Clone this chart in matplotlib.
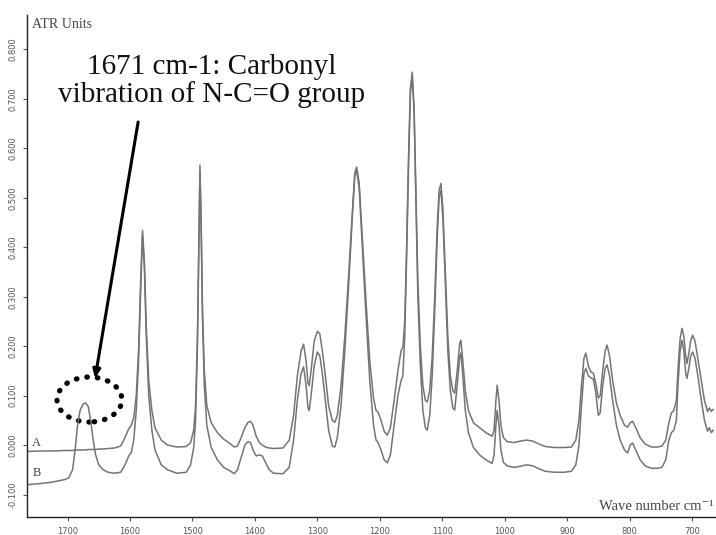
import matplotlib
matplotlib.use("Agg")
import matplotlib.pyplot as plt
import matplotlib.patches as patches

# wave numbers (cm-1) shared by both spectra
wavenumber = [
    1765, 1745, 1725, 1705, 1698, 1692, 1688, 1684, 1680, 1675, 1671, 1667, 1663, 1659, 1655,
    1650, 1643, 1635, 1625, 1615, 1608, 1602, 1598, 1594, 1590, 1586, 1583, 1580, 1577, 1574,
    1570, 1565, 1560, 1550, 1540, 1525, 1510, 1503, 1498, 1495, 1492, 1490, 1488, 1486, 1484,
    1481, 1477, 1470, 1460, 1450, 1440, 1433, 1428, 1422, 1416, 1411, 1407, 1403, 1398, 1393,
    1388, 1383, 1377, 1370, 1355, 1345, 1338, 1332, 1326, 1322, 1318, 1315, 1313, 1310, 1305,
    1300, 1296, 1292, 1288, 1282, 1276, 1272, 1268, 1262, 1256, 1250, 1244, 1240, 1237, 1233,
    1228, 1222, 1216, 1210, 1206, 1203, 1198, 1193, 1188, 1183, 1177, 1171, 1166, 1163, 1160,
    1157, 1154, 1151, 1148, 1145, 1142, 1139, 1135, 1131, 1127, 1124, 1120, 1116, 1112, 1108,
    1105, 1102, 1099, 1095, 1091, 1087, 1083, 1080, 1076, 1072, 1070, 1067, 1063, 1058, 1050,
    1040, 1030, 1020, 1017, 1014, 1012, 1009, 1006, 1002, 996, 985, 975, 965, 955, 945,
    935, 920, 905, 893, 886, 881, 877, 873, 870, 866, 862, 858, 854, 850, 847,
    843, 839, 836, 832, 827, 821, 815, 808, 803, 799, 795, 790, 783, 775, 765,
    755, 748, 742, 737, 733, 729, 725, 722, 719, 716, 713, 710, 708, 705, 702,
    699, 695, 690, 685, 680, 675, 672, 669, 666,
]

spectrum_a = [
    -0.013, -0.012, -0.012, -0.011, -0.011, -0.011, -0.010, -0.010, -0.010, -0.010, -0.010, -0.009, -0.009, -0.009, -0.009,
    -0.008, -0.008, -0.007, -0.006, -0.002, 0.015, 0.033, 0.040, 0.055, 0.100, 0.200, 0.330, 0.434, 0.370, 0.240,
    0.130, 0.070, 0.035, 0.010, 0.000, -0.004, -0.003, 0.005, 0.030, 0.080, 0.220, 0.400, 0.566, 0.450, 0.280,
    0.150, 0.080, 0.045, 0.025, 0.012, 0.003, -0.004, -0.002, 0.015, 0.035, 0.046, 0.048, 0.040, 0.018, 0.005,
    0.000, -0.004, -0.006, -0.007, -0.006, 0.010, 0.060, 0.140, 0.190, 0.204, 0.170, 0.125, 0.120, 0.150, 0.210,
    0.230, 0.225, 0.190, 0.150, 0.080, 0.050, 0.046, 0.060, 0.120, 0.220, 0.340, 0.470, 0.550, 0.562, 0.530,
    0.420, 0.290, 0.170, 0.095, 0.070, 0.067, 0.050, 0.028, 0.020, 0.035, 0.090, 0.150, 0.190, 0.198, 0.250,
    0.400, 0.580, 0.720, 0.754, 0.680, 0.500, 0.330, 0.200, 0.120, 0.090, 0.087, 0.110, 0.180, 0.300, 0.440,
    0.515, 0.529, 0.480, 0.350, 0.220, 0.140, 0.110, 0.105, 0.150, 0.205, 0.212, 0.170, 0.110, 0.070, 0.045,
    0.035, 0.025, 0.018, 0.030, 0.090, 0.121, 0.090, 0.040, 0.015, 0.007, 0.005, 0.008, 0.010, 0.008, 0.002,
    -0.003, -0.005, -0.005, -0.004, 0.010, 0.050, 0.120, 0.175, 0.186, 0.160, 0.148, 0.145, 0.125, 0.095, 0.100,
    0.150, 0.190, 0.202, 0.180, 0.130, 0.085, 0.060, 0.040, 0.036, 0.045, 0.048, 0.035, 0.015, 0.002, -0.004,
    -0.004, -0.002, 0.010, 0.045, 0.065, 0.070, 0.090, 0.160, 0.215, 0.236, 0.220, 0.180, 0.165, 0.185, 0.212,
    0.222, 0.210, 0.170, 0.130, 0.090, 0.068, 0.075, 0.068, 0.072,
]

spectrum_b = [
    -0.080, -0.078, -0.075, -0.070, -0.066, -0.050, -0.010, 0.040, 0.070, 0.083, 0.085, 0.078, 0.050, 0.010, -0.020,
    -0.040, -0.050, -0.055, -0.057, -0.055, -0.040, -0.022, -0.015, 0.010, 0.070, 0.180, 0.310, 0.425, 0.360, 0.220,
    0.100, 0.030, -0.010, -0.040, -0.050, -0.057, -0.055, -0.040, -0.005, 0.050, 0.200, 0.380, 0.550, 0.430, 0.260,
    0.120, 0.040, -0.005, -0.030, -0.045, -0.052, -0.058, -0.050, -0.025, 0.000, 0.007, 0.005, -0.010, -0.022, -0.020,
    -0.022, -0.035, -0.050, -0.057, -0.058, -0.045, 0.010, 0.090, 0.145, 0.158, 0.120, 0.075, 0.070, 0.100, 0.160,
    0.188, 0.180, 0.145, 0.100, 0.030, -0.002, -0.004, 0.015, 0.080, 0.190, 0.320, 0.460, 0.545, 0.555, 0.520,
    0.400, 0.260, 0.130, 0.040, 0.010, 0.006, -0.010, -0.030, -0.036, -0.020, 0.040, 0.100, 0.130, 0.140, 0.220,
    0.380, 0.560, 0.710, 0.745, 0.670, 0.480, 0.300, 0.160, 0.070, 0.035, 0.030, 0.060, 0.140, 0.270, 0.420,
    0.500, 0.515, 0.460, 0.330, 0.190, 0.110, 0.075, 0.071, 0.120, 0.178, 0.186, 0.140, 0.070, 0.025, -0.005,
    -0.020, -0.030, -0.037, -0.020, 0.040, 0.070, 0.040, -0.010, -0.035, -0.042, -0.045, -0.043, -0.040, -0.042, -0.048,
    -0.053, -0.055, -0.055, -0.053, -0.040, 0.000, 0.080, 0.145, 0.155, 0.140, 0.136, 0.133, 0.105, 0.060, 0.065,
    0.120, 0.155, 0.162, 0.140, 0.090, 0.040, 0.010, -0.010, -0.016, 0.000, 0.004, -0.010, -0.030, -0.042, -0.047,
    -0.047, -0.045, -0.030, 0.010, 0.025, 0.030, 0.050, 0.130, 0.190, 0.212, 0.190, 0.145, 0.135, 0.155, 0.180,
    0.188, 0.175, 0.135, 0.090, 0.050, 0.028, 0.035, 0.025, 0.030,
]

x_ticks = [1700, 1600, 1500, 1400, 1300, 1200, 1100, 1000, 900, 800, 700]
y_ticks = [-0.1, 0.0, 0.1, 0.2, 0.3, 0.4, 0.5, 0.6, 0.7, 0.8]

serif = ["Liberation Serif", "DejaVu Serif"]
line_color = "#747474"

fig = plt.figure(figsize=(7.16, 5.35), dpi=100)
ax = fig.add_axes([0.0377, 0.0336, 0.961, 0.938])

ax.plot(wavenumber, spectrum_a, color=line_color, lw=1.1)
ax.plot(wavenumber, spectrum_b, color=line_color, lw=1.1)

ax.set_xlim(1765, 663)
ax.set_ylim(-0.1455, 0.869)

ax.set_xticks(x_ticks)
ax.set_xticklabels([str(t) for t in x_ticks])
ax.set_yticks(y_ticks)
ax.set_yticklabels(["%.3f" % t for t in y_ticks], rotation=90, va="center")

ax.tick_params(axis="both", direction="out", length=3, width=0.8, colors="#555555", labelsize=6)
ax.tick_params(axis="x", pad=4)
ax.tick_params(axis="y", pad=4)

for side in ["top", "right"]:
    ax.spines[side].set_visible(False)
for side in ["left", "bottom"]:
    ax.spines[side].set_color("#222222")
    ax.spines[side].set_linewidth(1.0)

# axis captions drawn inside the frame like the instrument software does
ax.text(0.008, 0.981, "ATR Units", transform=ax.transAxes, family=serif,
        fontsize=10, color="#444444", ha="left", va="center")
ax.text(0.998, 0.02, "Wave number cm\u207b\u00b9", transform=ax.transAxes, family=serif,
        fontsize=10.5, color="#444444", ha="right", va="center")

# curve labels
ax.text(1750, 0.005, "A", family=serif, fontsize=9, color="#444444", ha="center", va="center")
ax.text(1750, -0.057, "B", family=serif, fontsize=9, color="#444444", ha="center", va="center")

# carbonyl annotation
ax.text(1469, 0.735, "1671 cm-1: Carbonyl\nvibration of N-C=O group", family=serif,
        fontsize=21, color="#111111", ha="center", va="center", linespacing=1.05)
ax.annotate("", xy=(1656, 0.135), xytext=(1587, 0.653),
            arrowprops=dict(arrowstyle="-|>,head_length=0.5,head_width=0.22",
                            color="black", lw=2.2, shrinkA=0, shrinkB=0))
ring = patches.Ellipse((1665, 0.092), 104, 0.091, fill=False, edgecolor="black",
                       lw=3.8, linestyle=(0, (0.1, 1.9)), capstyle="round")
ax.add_patch(ring)

fig.savefig("out.png", dpi=100)
